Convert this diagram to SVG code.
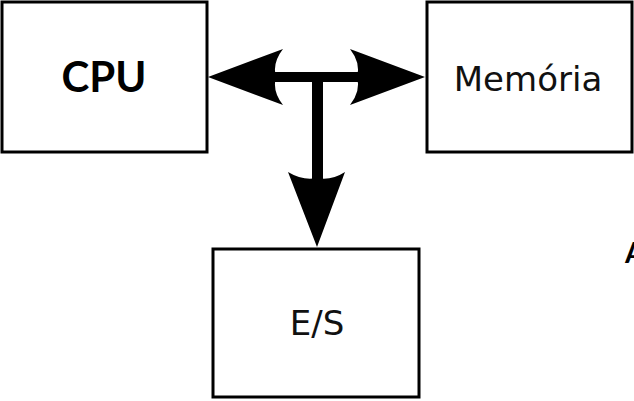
<svg xmlns="http://www.w3.org/2000/svg" width="634" height="401" viewBox="0 0 634 401">
<style>
.box{fill:#fff;stroke:#000;stroke-width:3}
.lbl{font-family:"DejaVu Sans",sans-serif;font-size:34px;fill:#111;text-anchor:middle}
.bold{font-family:Lato,"Liberation Sans",Arial,sans-serif;font-weight:bold}
.arr{fill:#000;stroke:none}
</style>
<rect width="634" height="401" fill="#fff"/>
<g id="cpu">
<rect class="box" x="2" y="2" width="205" height="150"/>
<text class="bold" x="104" y="92" font-size="42" text-anchor="middle">CPU</text>
</g>
<g id="memoria">
<rect class="box" x="427" y="2" width="205" height="150"/>
<text class="lbl" x="528" y="91">Memória</text>
</g>
<g id="es">
<rect class="box" x="213" y="249" width="206" height="148"/>
<text class="lbl" x="317" y="335">E/S</text>
</g>
<g id="connectors">
<rect class="arr" x="270" y="72" width="92" height="10"/>
<rect class="arr" x="312" y="77" width="11" height="102"/>
<path class="arr" d="M208,77 L283,49 Q272,63 276,77 Q272,91 283,105 Z"/>
<path class="arr" d="M425,77 L350,49 Q361,63 357,77 Q361,91 350,105 Z"/>
<path class="arr" d="M317,247 L288,172 Q303,181 317,178 Q331,181 345,172 Z"/>
</g>
<text class="bold" x="625" y="263" font-size="28">A</text>
</svg>
